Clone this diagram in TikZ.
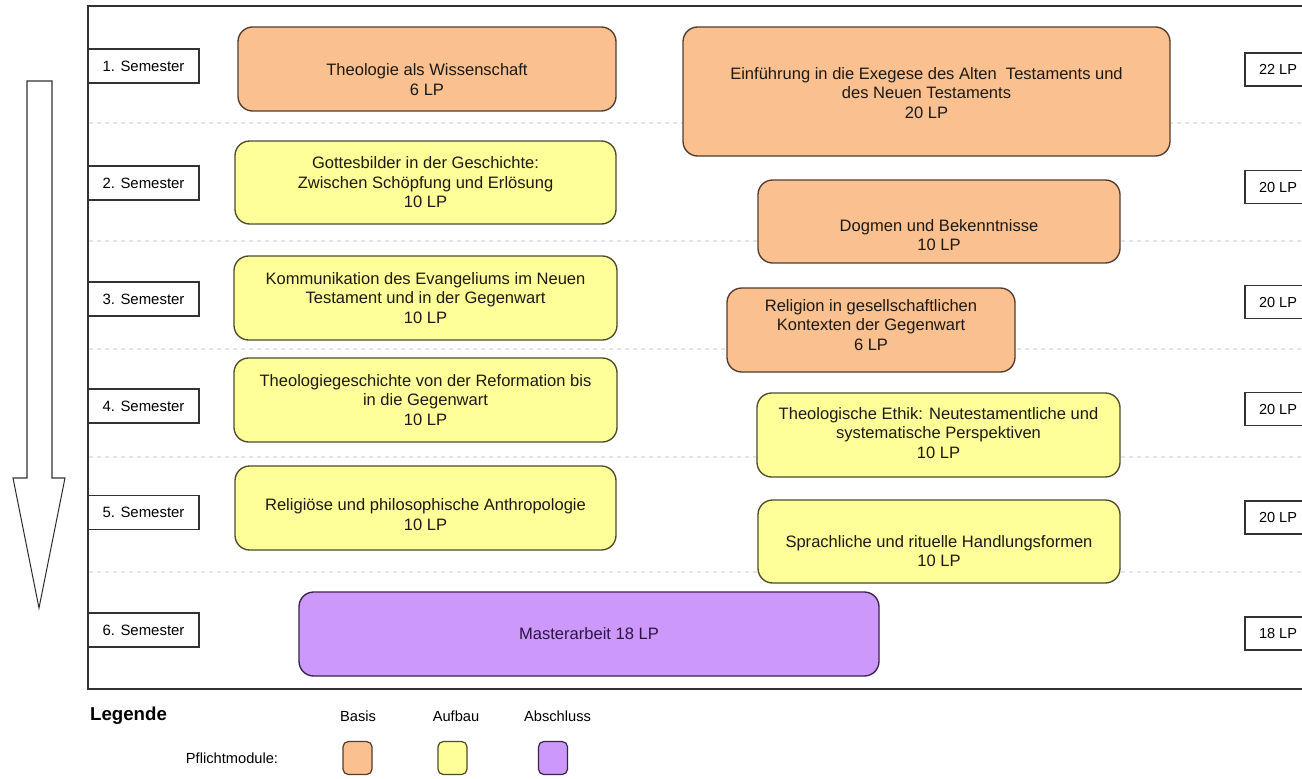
\documentclass[tikz,border=0pt]{standalone}
\usepackage{fontspec}
\setmainfont{Liberation Sans}
\usetikzlibrary{calc}
\definecolor{basisfill}{RGB}{250,192,144}
\definecolor{basisdraw}{RGB}{80,60,45}
\definecolor{aufbaufill}{RGB}{255,255,153}
\definecolor{aufbaudraw}{RGB}{75,75,45}
\definecolor{abschlussfill}{RGB}{204,153,250}
\definecolor{abschlussdraw}{RGB}{55,35,75}
\definecolor{framecol}{RGB}{50,50,50}
\definecolor{sepcol}{RGB}{228,228,228}
\definecolor{txtcol}{RGB}{30,25,20}
\begin{document}
\begin{tikzpicture}[x=0.75pt,y=-0.75pt,
  modbox/.style={rounded corners=11pt, line width=1pt, inner sep=0pt},
  basis/.style={modbox, draw=basisdraw, fill=basisfill},
  aufbau/.style={modbox, draw=aufbaudraw, fill=aufbaufill},
  abschluss/.style={modbox, draw=abschlussdraw, fill=abschlussfill},
  modtext/.style={align=center, text=txtcol, inner sep=0pt, font=\fontsize{12.4}{14.6}\selectfont},
  sembox/.style={draw=framecol, line width=0.9pt, fill=white, minimum width=83.25pt, minimum height=25.5pt, inner sep=0pt, font=\fontsize{11.2}{13}\selectfont},
  lpbox/.style={draw=framecol, line width=0.9pt, fill=white, minimum width=49.5pt, minimum height=24.75pt, inner sep=0pt, font=\fontsize{10.9}{13}\selectfont},
  sepline/.style={draw=sepcol, dashed, line width=0.8pt},
  legtext/.style={inner sep=0pt, font=\fontsize{11}{13}\selectfont},
  swatch/.style={rounded corners=4pt, line width=0.9pt, minimum width=21.75pt, minimum height=24.75pt, inner sep=0pt}
]
\clip (0,0) rectangle (1302,778);
\fill[white] (0,0) rectangle (1302,778);

% big arrow
\draw[draw=framecol, line width=0.8pt, fill=white]
  (27,81) -- (52,81) -- (52,478) -- (65,478) -- (39,608) -- (13,478) -- (27,478) -- cycle;

% frame
\draw[draw=framecol, line width=1pt] (1330,6) -- (88,6) -- (88,689) -- (1330,689);

% separators
\foreach \yy in {123,241,349,457,572}
  \draw[sepline] (89,\yy) -- (1302,\yy);

% semester boxes
\node[sembox] (s1) at (143.5,66) {1. Semester};
\node[sembox] (s2) at (143.5,183) {2. Semester};
\node[sembox] (s3) at (143.5,299) {3. Semester};
\node[sembox] (s4) at (143.5,406) {4. Semester};
\node[sembox] (s5) at (143.5,512.5) {5. Semester};
\node[sembox] (s6) at (143.5,630) {6. Semester};

% LP boxes
\node[lpbox] (l1) at (1278,69.5) {22 LP};
\node[lpbox] (l2) at (1278,187) {20 LP};
\node[lpbox] (l3) at (1278,302) {20 LP};
\node[lpbox] (l4) at (1278,409) {20 LP};
\node[lpbox] (l5) at (1278,517.5) {20 LP};
\node[lpbox] (l6) at (1278,633.5) {18 LP};

% modules
\node[basis, minimum width=283.5pt, minimum height=63pt] (m1) at (427,69) {};
\node[modtext] (t1) at ($(m1.center)+(0,10.5)$) {Theologie als Wissenschaft\\6 LP};

\node[basis, minimum width=365.25pt, minimum height=96.75pt] (m2) at (926.5,91.5) {};
\node[modtext] (t2) at ($(m2.center)+(0,1.5)$) {Einführung in die Exegese des Alten\ \ Testaments und\\des Neuen Testaments\\20 LP};

\node[aufbau, minimum width=285.75pt, minimum height=62.25pt] (m3) at (425.5,182.5) {};
\node[modtext] (t3) at (m3.center) {Gottesbilder in der Geschichte:\\Zwischen Schöpfung und Erlösung\\10 LP};

\node[basis, minimum width=271.5pt, minimum height=62.25pt] (m4) at (939,221.5) {};
\node[modtext] (t4) at ($(m4.center)+(0,13.5)$) {Dogmen und Bekenntnisse\\10 LP};

\node[aufbau, minimum width=287.25pt, minimum height=63pt] (m5) at (425.5,298) {};
\node[modtext] (t5) at (m5.center) {Kommunikation des Evangeliums im Neuen\\Testament und in der Gegenwart\\10 LP};

\node[basis, minimum width=216pt, minimum height=63pt] (m6) at (871,330) {};
\node[modtext] (t6) at ($(m6.center)+(0,-5)$) {Religion in gesellschaftlichen\\Kontexten der Gegenwart\\6 LP};

\node[aufbau, minimum width=287.25pt, minimum height=63pt] (m7) at (425.5,400) {};
\node[modtext] (t7) at (m7.center) {Theologiegeschichte von der Reformation bis\\in die Gegenwart\\10 LP};

\node[aufbau, minimum width=272.25pt, minimum height=63pt] (m8) at (938.5,435) {};
\node[modtext] (t8) at ($(m8.center)+(0,-2)$) {Theologische Ethik: Neutestamentliche und\\systematische Perspektiven\\10 LP};

\node[aufbau, minimum width=285.75pt, minimum height=63pt] (m9) at (425.5,508) {};
\node[modtext] (t9) at ($(m9.center)+(0,6.5)$) {Religiöse und philosophische Anthropologie\\10 LP};

\node[aufbau, minimum width=271.5pt, minimum height=62.25pt] (m10) at (939,541.5) {};
\node[modtext] (t10) at ($(m10.center)+(0,9.5)$) {Sprachliche und rituelle Handlungsformen\\10 LP};

\node[abschluss, minimum width=435pt, minimum height=63pt] (m11) at (589,634) {};
\node[modtext, text={rgb,255:red,45;green,20;blue,70}] (t11) at (m11.center) {Masterarbeit 18 LP};

% legend
\node[inner sep=0pt, font=\fontsize{14}{16}\selectfont\bfseries] (leg) at (128.5,716) {Legende};
\node[legtext] (lb) at (358,716) {Basis};
\node[legtext] (la) at (456,716) {Aufbau};
\node[legtext] (lc) at (557.5,716) {Abschluss};
\node[legtext] (lp) at (232,758) {Pflichtmodule:};
\node[swatch, draw=basisdraw, fill=basisfill] (wb) at (357.5,758) {};
\node[swatch, draw=aufbaudraw, fill=aufbaufill] (wa) at (452.5,758) {};
\node[swatch, draw=abschlussdraw, fill=abschlussfill] (wc) at (553,758) {};
\end{tikzpicture}
\end{document}
